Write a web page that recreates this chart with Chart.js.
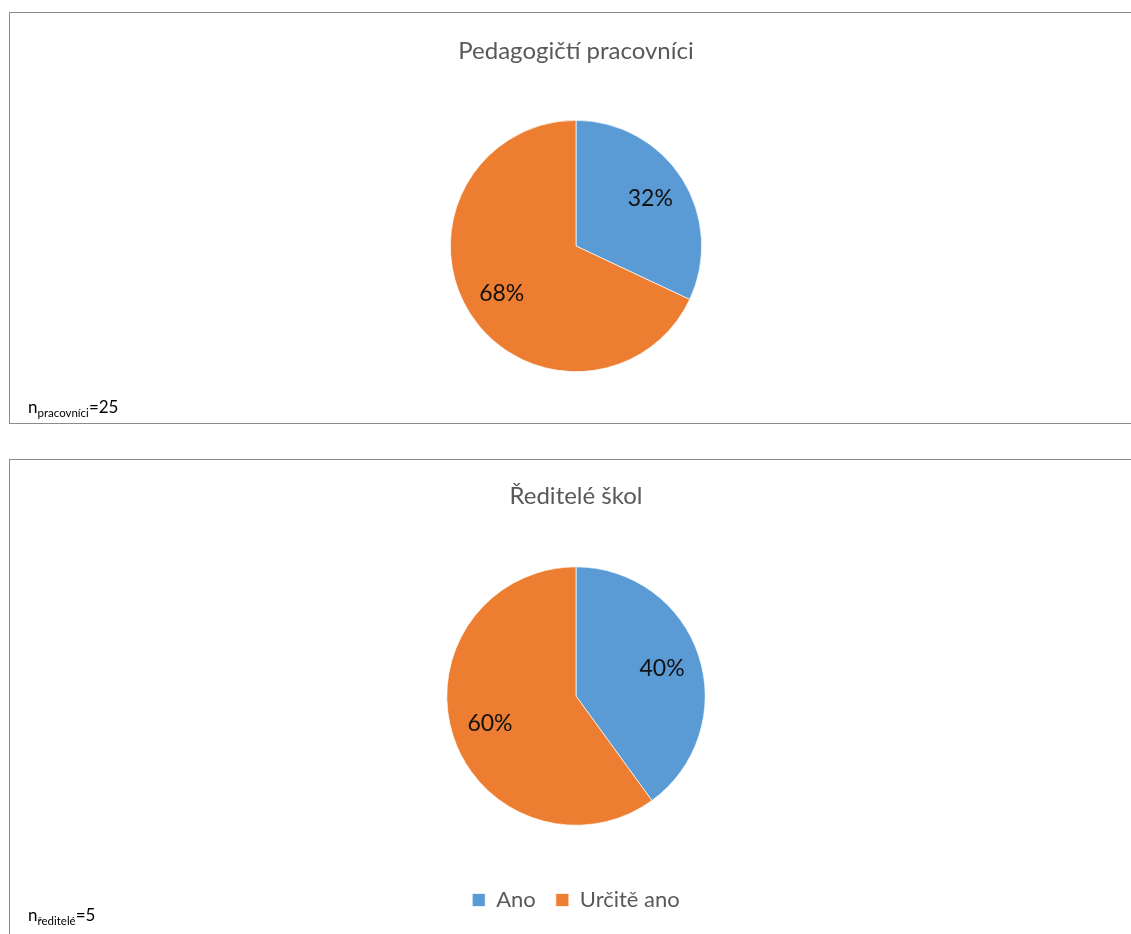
<!DOCTYPE html>
<html>
<head>
<meta charset="utf-8">
<script src="https://cdn.jsdelivr.net/npm/chart.js@4/dist/chart.umd.min.js"></script>
<style>
  html, body { margin: 0; padding: 0; background: #fff; width: 1131px; height: 934px; overflow: hidden; }
  .panel { position: absolute; left: 9px; width: 1130px; border-left: 1px solid #8c8c8c; border-top: 1px solid #8c8c8c; box-sizing: border-box; }
  #p1 { top: 12px; height: 412px; border-bottom: 1px solid #8c8c8c; }
  #p2 { top: 459px; height: 480px; }
  .panel canvas { position: absolute; left: 0; top: 0; }
  .n { position: absolute; left: 18px; font-family: Lato, "Open Sans", sans-serif; font-size: 17px; line-height: 17px; color: #000; white-space: nowrap; }
  .n sub { font-size: 11.5px; line-height: 0; vertical-align: -4px; }
</style>
</head>
<body>
<div class="panel" id="p1">
  <canvas id="c1"></canvas>
  <div class="n" style="top:385px">n<sub>pracovníci</sub>=25</div>
</div>
<div class="panel" id="p2">
  <canvas id="c2"></canvas>
  <div class="n" style="top:446px">n<sub>ředitelé</sub>=5</div>
</div>
<script>
// Answer categories and shares (percent) for each respondent group
const categories = ['Ano', 'Určitě ano'];
const pracovniciValues = [32, 68];
const reditelValues = [40, 60];
const titles = ['Pedagogičtí pracovníci', 'Ředitelé škol'];
const sliceColors = ['#5B9BD5', '#ED7D31'];

const FONT = 'Lato, "Open Sans", sans-serif';

// Writes the percentage inside each slice at ~70 % of the radius
const sliceLabels = {
  id: 'sliceLabels',
  afterDatasetsDraw(chart) {
    const ctx = chart.ctx;
    const meta = chart.getDatasetMeta(0);
    const data = chart.data.datasets[0].data;
    ctx.save();
    ctx.font = '23px ' + FONT;
    ctx.fillStyle = '#111';
    ctx.textAlign = 'center';
    ctx.textBaseline = 'middle';
    meta.data.forEach((arc, i) => {
      const p = arc.getProps(['x', 'y', 'startAngle', 'endAngle', 'outerRadius'], true);
      const mid = (p.startAngle + p.endAngle) / 2;
      const r = p.outerRadius * 0.7;
      ctx.fillText(data[i] + '%', p.x + Math.cos(mid) * r, p.y + Math.sin(mid) * r);
    });
    ctx.restore();
  }
};

function makePie(id, w, h, values, title, showLegend, pad, titlePad) {
  const cv = document.getElementById(id);
  cv.width = w; cv.height = h;
  cv.style.width = w + 'px'; cv.style.height = h + 'px';
  return new Chart(cv, {
    type: 'pie',
    data: {
      labels: categories,
      datasets: [{ data: values, backgroundColor: sliceColors, borderColor: '#ffffff', borderWidth: 0.7 }]
    },
    options: {
      responsive: false,
      animation: false,
      rotation: 0,
      layout: { padding: pad },
      plugins: {
        title: {
          display: true, text: title, color: '#595959',
          font: { family: FONT, size: 24, weight: 'normal' },
          padding: titlePad
        },
        legend: {
          display: showLegend, position: 'bottom',
          // empty legend title only reserves the gap between pie and legend row
          title: { display: true, text: '', font: { size: 12 }, padding: { top: 29, bottom: 0 } },
          labels: {
            color: '#595959', font: { family: FONT, size: 22 },
            boxWidth: 13, boxHeight: 13, padding: 20
          }
        },
        tooltip: { enabled: false }
      }
    },
    plugins: [sliceLabels]
  });
}

makePie('c1', 1121, 410, pracovniciValues, titles[0], false,
  { left: 11, right: 0, top: 0, bottom: 51 }, { top: 23.6, bottom: 54.6 });
makePie('c2', 1121, 474, reditelValues, titles[1], true,
  { left: 11, right: 0, top: 0, bottom: 13 }, { top: 21.6, bottom: 56.1 });
</script>
</body>
</html>
